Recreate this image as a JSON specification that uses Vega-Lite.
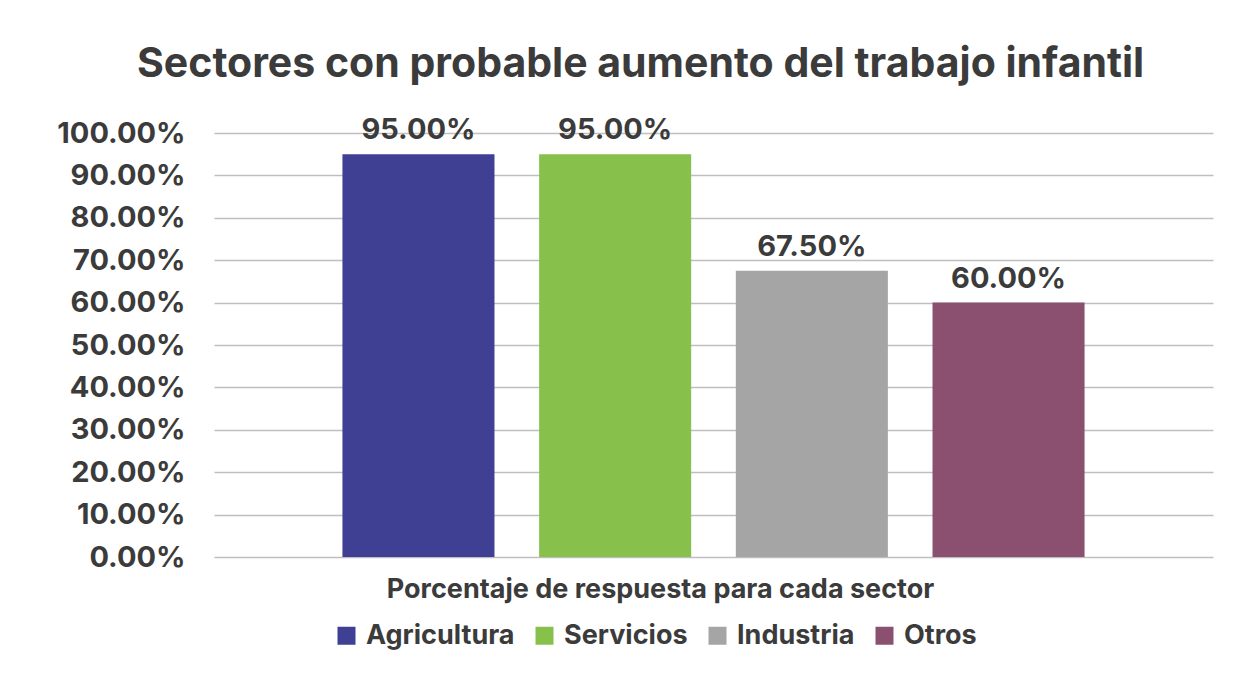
{
  "$schema": "https://vega.github.io/schema/vega-lite/v6.json",
  "width": 999,
  "height": 424,
  "autosize": {"type": "none"},
  "padding": {"left": 214, "top": 133, "right": 36, "bottom": 120},
  "background": "white",
  "config": {
    "view": {"stroke": null},
    "font": "Inter"
  },
  "title": {
    "text": "Sectores con probable aumento del trabajo infantil",
    "fontSize": 41,
    "fontWeight": "bold",
    "color": "#3b3b3b",
    "anchor": "start",
    "frame": "group",
    "dx": -77,
    "baseline": "alphabetic",
    "offset": -2
  },
  "data": {
    "values": [
      {"sector": "Agricultura", "valor": 0.95},
      {"sector": "Servicios", "valor": 0.95},
      {"sector": "Industria", "valor": 0.675},
      {"sector": "Otros", "valor": 0.60}
    ]
  },
  "encoding": {
    "x": {
      "field": "sector",
      "type": "nominal",
      "sort": ["Agricultura", "Servicios", "Industria", "Otros"],
      "scale": {"paddingInner": 0.227, "paddingOuter": 0.653},
      "axis": {
        "labels": false,
        "ticks": false,
        "domain": false,
        "title": "Porcentaje de respuesta para cada sector",
        "titleX": 446,
        "titleY": 40,
        "titleBaseline": "alphabetic",
        "titleFontSize": 27,
        "titleFontWeight": "bold",
        "titleColor": "#3b3b3b"
      }
    },
    "y": {
      "field": "valor",
      "type": "quantitative",
      "scale": {"domain": [0, 1], "nice": false},
      "axis": {
        "title": null,
        "format": ".2%",
        "values": [0, 0.1, 0.2, 0.3, 0.4, 0.5, 0.6, 0.7, 0.8, 0.9, 1.0],
        "labelFontSize": 29,
        "labelFontWeight": "bold",
        "labelColor": "#3b3b3b",
        "labelPadding": 29,
        "domain": false,
        "ticks": false,
        "gridColor": "#BFBFBF",
        "gridWidth": 1.5
      }
    }
  },
  "layer": [
    {
      "mark": {"type": "bar"},
      "encoding": {
        "color": {
          "field": "sector",
          "type": "nominal",
          "scale": {
            "domain": ["Agricultura", "Servicios", "Industria", "Otros"],
            "range": ["#3F3F94", "#87C04B", "#A5A5A5", "#8B4F6F"]
          },
          "legend": {
            "title": null,
            "orient": "none",
            "direction": "horizontal",
            "legendX": 119,
            "legendY": 489,
            "symbolType": "square",
            "symbolSize": 324,
            "symbolStrokeWidth": 0,
            "symbolOpacity": 1,
            "labelFontSize": 27,
            "labelFontWeight": "bold",
            "labelColor": "#3b3b3b",
            "labelOffset": 6,
            "columnPadding": 16,
            "labelLimit": 400
          }
        }
      }
    },
    {
      "mark": {
        "type": "text",
        "dy": -15,
        "baseline": "alphabetic",
        "fontSize": 29,
        "fontWeight": "bold",
        "color": "#3b3b3b"
      },
      "encoding": {
        "text": {"field": "valor", "type": "quantitative", "format": ".2%"}
      }
    }
  ]
}
